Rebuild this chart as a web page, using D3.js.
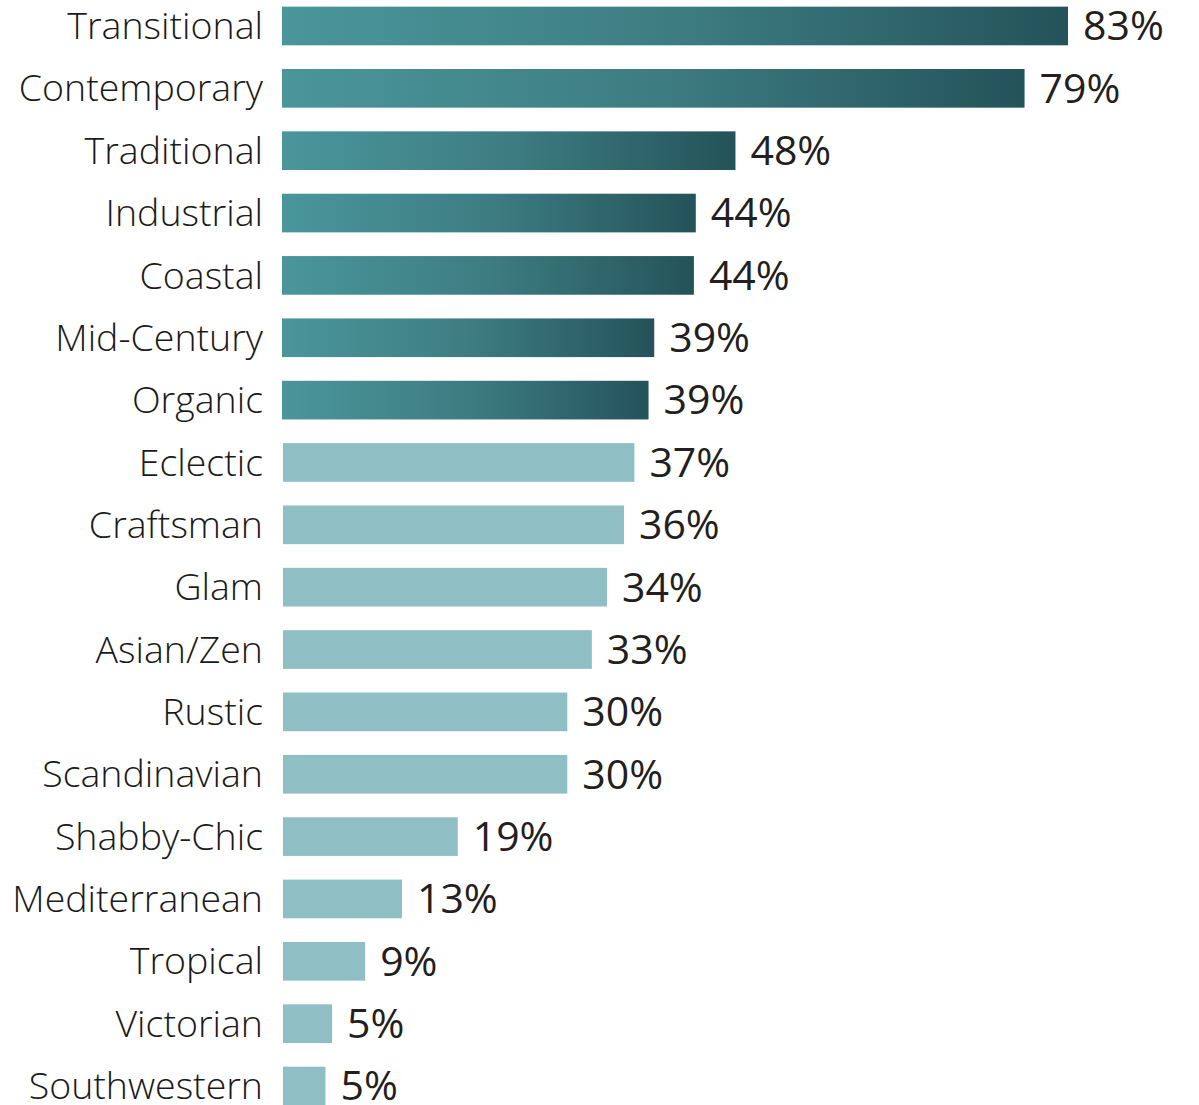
<!DOCTYPE html>
<html><head><meta charset="utf-8">
<script src="https://cdn.jsdelivr.net/npm/d3@7"></script>
<style>body{margin:0;background:#fff}svg{display:block}</style>
</head><body>
<svg id="c" width="1199" height="1105"></svg>
<script>
const categories = ["Transitional","Contemporary","Traditional","Industrial","Coastal","Mid-Century","Organic","Eclectic","Craftsman","Glam","Asian/Zen","Rustic","Scandinavian","Shabby-Chic","Mediterranean","Tropical","Victorian","Southwestern"];
const values = [83.2,78.6,48.0,43.8,43.6,39.4,38.8,37.3,36.2,34.4,32.8,30.2,30.2,18.6,12.7,8.8,5.3,4.6];
const valueLabels = ["83%","79%","48%","44%","44%","39%","39%","37%","36%","34%","33%","30%","30%","19%","13%","9%","5%","5%"];
const highlighted = 7; // first N bars drawn with gradient

const svg = d3.select("#c");
const x = d3.scaleLinear().domain([0, 83.2]).range([282, 1068]);
const y = d3.scaleBand().domain(categories).range([-5.2, 1117.2]).paddingInner(0.38).paddingOuter(0.19);

const defs = svg.append("defs");
const g = defs.append("linearGradient").attr("id","grad").attr("x1","0").attr("x2","1").attr("y1","0").attr("y2","0");
g.append("stop").attr("offset","0").attr("stop-color","#4a969b");
g.append("stop").attr("offset","0.5").attr("stop-color","#3d7d82");
g.append("stop").attr("offset","1").attr("stop-color","#24535a");

const font = "'Open Sans', Lato, sans-serif";
const rows = svg.selectAll("g.row").data(categories).join("g").attr("class","row");

rows.append("rect")
  .attr("x", (d,i) => i < highlighted ? x(0) : x(0)+1)
  .attr("y", d => y(d))
  .attr("width", (d,i) => x(values[i]) - x(0) - (i < highlighted ? 0 : 1))
  .attr("height", y.bandwidth())
  .attr("fill", (d,i) => i < highlighted ? "url(#grad)" : "#8fbec4");

rows.append("text")
  .attr("x", 263)
  .attr("y", d => y(d) + y.bandwidth()/2)
  .attr("dy","0.35em")
  .attr("text-anchor","end")
  .attr("font-family", font)
  .attr("font-weight", 300)
  .attr("font-size", 37.5)
  .attr("fill","#1a1a1a")
  .text(d => d);

rows.append("text")
  .attr("x", (d,i) => x(values[i]) + 15)
  .attr("y", d => y(d) + y.bandwidth()/2)
  .attr("dy","0.35em")
  .attr("font-family", "'Open Sans', sans-serif")
  .attr("font-size", 41)
  .attr("fill","#231f20")
  .text((d,i) => valueLabels[i]);
</script>
</body></html>
